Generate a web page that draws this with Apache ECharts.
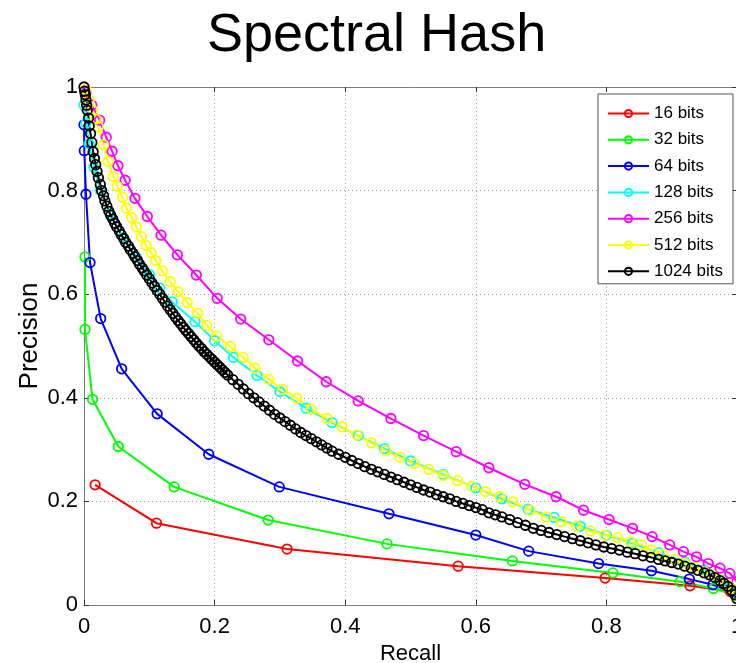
<!DOCTYPE html>
<html>
<head>
<meta charset="utf-8">
<script src="https://cdn.jsdelivr.net/npm/echarts@6/dist/echarts.min.js"></script>
<style>
html,body{margin:0;padding:0;background:#fff;}
#chart{width:736px;height:663px;}
</style>
</head>
<body>
<div id="chart"></div>
<script>
// ---- data (recall, precision) ----
const xTicks = [0, 0.2, 0.4, 0.6, 0.8, 1];
const yTicks = [0, 0.2, 0.4, 0.6, 0.8, 1];
const seriesNames = ['16 bits', '32 bits', '64 bits', '128 bits', '256 bits', '512 bits', '1024 bits'];
const seriesColors = ['#ff0000', '#00ff00', '#0000ff', '#00ffff', '#ff00ff', '#ffff00', '#000000'];

const bits16 = [[0.017,0.232],[0.111,0.158],[0.311,0.108],[0.573,0.075],[0.798,0.052],[0.928,0.037],[0.99,0.026],[1.0,0.02]];
const bits32 = [[0.0015,0.672],[0.0015,0.532],[0.013,0.397],[0.0525,0.306],[0.138,0.228],[0.282,0.164],[0.464,0.118],[0.656,0.085],[0.81,0.062],[0.913,0.045],[0.964,0.032],[1.0,0.018]];
const bits64 = [[0.0,0.927],[0.0005,0.877],[0.003,0.793],[0.0092,0.661],[0.0255,0.553],[0.0577,0.456],[0.112,0.369],[0.191,0.291],[0.299,0.228],[0.467,0.176],[0.6,0.135],[0.681,0.104],[0.788,0.080],[0.869,0.066],[0.927,0.050],[0.963,0.039],[1.0,0.022]];
const bits128 = [[0,0.965],[0.003,0.93],[0.008,0.89],[0.015,0.845],[0.025,0.8],[0.04,0.755],[0.06,0.71],[0.08,0.672],[0.1,0.638],[0.116,0.612],[0.135,0.585],[0.17,0.547],[0.2,0.51],[0.229,0.478],[0.265,0.443],[0.3,0.412],[0.34,0.38],[0.38,0.352],[0.42,0.327],[0.46,0.302],[0.5,0.278],[0.55,0.252],[0.6,0.226],[0.64,0.205],[0.68,0.185],[0.72,0.169],[0.76,0.152],[0.8,0.135],[0.84,0.119],[0.88,0.101],[0.92,0.083],[0.95,0.068],[0.98,0.048],[1.0,0.028]];
const bits256 = [[0.003,0.99],[0.012,0.965],[0.024,0.936],[0.034,0.903],[0.043,0.876],[0.052,0.848],[0.063,0.82],[0.078,0.785],[0.097,0.75],[0.118,0.714],[0.143,0.676],[0.172,0.637],[0.204,0.592],[0.24,0.552],[0.283,0.512],[0.327,0.471],[0.371,0.431],[0.42,0.394],[0.47,0.36],[0.52,0.327],[0.57,0.296],[0.62,0.265],[0.675,0.233],[0.723,0.209],[0.765,0.183],[0.804,0.165],[0.84,0.148],[0.87,0.132],[0.897,0.116],[0.918,0.103],[0.938,0.093],[0.956,0.08],[0.974,0.071],[0.989,0.061],[1.0,0.045]];
const bits512 = [[0.003,0.995],[0.008,0.975],[0.013,0.955],[0.018,0.938],[0.022,0.923],[0.03,0.888],[0.037,0.856],[0.045,0.827],[0.051,0.808],[0.059,0.787],[0.065,0.766],[0.073,0.748],[0.08,0.73],[0.088,0.711],[0.095,0.694],[0.103,0.68],[0.11,0.665],[0.12,0.645],[0.132,0.624],[0.144,0.605],[0.158,0.584],[0.174,0.563],[0.188,0.54],[0.203,0.519],[0.224,0.499],[0.244,0.478],[0.262,0.457],[0.283,0.436],[0.304,0.416],[0.326,0.399],[0.348,0.378],[0.372,0.36],[0.395,0.344],[0.418,0.328],[0.44,0.313],[0.462,0.298],[0.484,0.285],[0.506,0.273],[0.528,0.262],[0.55,0.25],[0.572,0.24],[0.594,0.229],[0.615,0.219],[0.637,0.209],[0.657,0.199],[0.683,0.183],[0.708,0.17],[0.731,0.161],[0.754,0.152],[0.776,0.143],[0.798,0.135],[0.817,0.13],[0.837,0.122],[0.854,0.116],[0.869,0.106],[0.887,0.097],[0.905,0.088],[0.92,0.08],[0.935,0.072],[0.95,0.064],[0.962,0.057],[0.974,0.049],[0.985,0.04],[0.994,0.03],[1.0,0.02]];
const bits1024 = [[0,1],[0.001,0.992],[0.002,0.985],[0.003,0.975],[0.004,0.965],[0.005,0.955],[0.007,0.94],[0.008,0.925],[0.01,0.91],[0.012,0.893],[0.014,0.875],[0.016,0.862],[0.018,0.85],[0.02,0.837],[0.022,0.825],[0.025,0.812],[0.027,0.8],[0.03,0.79],[0.032,0.78],[0.035,0.77],[0.038,0.76],[0.041,0.752],[0.044,0.745],[0.047,0.737],[0.05,0.73],[0.054,0.722],[0.057,0.715],[0.061,0.707],[0.064,0.7],[0.068,0.693],[0.071,0.686],[0.075,0.679],[0.078,0.672],[0.082,0.665],[0.085,0.658],[0.089,0.651],[0.092,0.645],[0.096,0.637],[0.1,0.63],[0.104,0.622],[0.108,0.615],[0.112,0.607],[0.116,0.6],[0.12,0.592],[0.124,0.585],[0.128,0.577],[0.132,0.57],[0.136,0.563],[0.14,0.556],[0.144,0.549],[0.148,0.543],[0.152,0.536],[0.156,0.53],[0.16,0.524],[0.164,0.518],[0.168,0.512],[0.172,0.506],[0.176,0.5],[0.18,0.495],[0.184,0.489],[0.188,0.484],[0.192,0.479],[0.196,0.474],[0.2,0.469],[0.204,0.464],[0.208,0.459],[0.212,0.454],[0.216,0.449],[0.22,0.444],[0.228,0.435],[0.236,0.426],[0.244,0.417],[0.252,0.408],[0.26,0.4],[0.268,0.392],[0.276,0.384],[0.284,0.376],[0.292,0.368],[0.3,0.361],[0.308,0.354],[0.316,0.347],[0.324,0.34],[0.332,0.333],[0.34,0.327],[0.348,0.321],[0.356,0.315],[0.364,0.309],[0.372,0.303],[0.38,0.297],[0.39,0.291],[0.4,0.285],[0.41,0.279],[0.42,0.273],[0.43,0.267],[0.44,0.262],[0.45,0.257],[0.46,0.252],[0.47,0.247],[0.48,0.242],[0.49,0.237],[0.5,0.232],[0.51,0.227],[0.52,0.222],[0.53,0.218],[0.54,0.213],[0.55,0.209],[0.56,0.205],[0.57,0.2],[0.58,0.196],[0.59,0.192],[0.6,0.188],[0.61,0.184],[0.62,0.178],[0.63,0.174],[0.64,0.17],[0.652,0.165],[0.664,0.159],[0.676,0.154],[0.688,0.148],[0.7,0.144],[0.712,0.14],[0.724,0.136],[0.736,0.132],[0.748,0.128],[0.76,0.124],[0.772,0.12],[0.784,0.116],[0.796,0.112],[0.808,0.109],[0.82,0.106],[0.832,0.102],[0.844,0.099],[0.856,0.095],[0.868,0.092],[0.88,0.088],[0.89,0.085],[0.9,0.082],[0.91,0.079],[0.92,0.075],[0.93,0.071],[0.94,0.067],[0.95,0.062],[0.958,0.058],[0.966,0.053],[0.974,0.047],[0.98,0.042],[0.986,0.036],[0.992,0.028],[0.997,0.02],[1.0,0.012]];

const allData = [bits16, bits32, bits64, bits128, bits256, bits512, bits1024];

const FONT = 'Liberation Sans, Arial, Helvetica, sans-serif';
const chart = echarts.init(document.getElementById('chart'), null, {renderer: 'canvas'});

const series = seriesNames.map((name, i) => ({
  name: name,
  type: 'line',
  data: allData[i],
  symbol: 'circle',
  symbolSize: 9.5,
  showSymbol: true,
  showAllSymbol: true,
  clip: false,
  animation: false,
  lineStyle: {color: seriesColors[i], width: 2},
  itemStyle: {color: 'rgba(255,255,255,0)', borderColor: seriesColors[i], borderWidth: 1.8},
  emphasis: {disabled: true}
}));

const axisCommon = {
  type: 'value', min: 0, max: 1, interval: 0.2,
  axisLine: {show: true, onZero: false, lineStyle: {color: '#808080', width: 1}},
  axisTick: {show: true, inside: true, length: 5, lineStyle: {color: '#333', width: 1}},
};

chart.setOption({
  animation: false,
  backgroundColor: '#ffffff',
  title: {
    text: 'Spectral Hash', left: 207, top: 9, padding: 0,
    textStyle: {fontFamily: FONT, fontSize: 54, fontWeight: 'normal', color: '#000'}
  },
  grid: {left: 84, top: 87, width: 653, height: 518, containLabel: false, outerBoundsMode: 'none'},
  xAxis: [
    Object.assign({}, axisCommon, {
      position: 'bottom',
      name: 'Recall', nameLocation: 'middle', nameGap: 34,
      nameTextStyle: {fontFamily: FONT, fontSize: 22, color: '#000'},
      axisLabel: {fontFamily: FONT, fontSize: 22, color: '#000', margin: 11,
        formatter: v => xTicks.indexOf(v) >= 0 ? String(v) : ''},
      splitLine: {show: true, lineStyle: {color: '#9a9a9a', type: [1, 3], width: 1}}
    }),
    Object.assign({}, axisCommon, {
      position: 'top', axisLabel: {show: false}, splitLine: {show: false}
    })
  ],
  yAxis: [
    Object.assign({}, axisCommon, {
      position: 'left',
      name: 'Precision', nameLocation: 'middle', nameGap: 41, nameRotate: 90,
      nameMoveOverlap: false,
      nameTextStyle: {fontFamily: FONT, fontSize: 26, color: '#000', padding: [0, 0, 0, 20]},
      axisLabel: {fontFamily: FONT, fontSize: 22, color: '#000', margin: 6,
        formatter: v => yTicks.indexOf(v) >= 0 ? String(v) : ''},
      splitLine: {show: true, lineStyle: {color: '#9a9a9a', type: [1, 3], width: 1}}
    }),
    Object.assign({}, axisCommon, {
      position: 'right', axisLabel: {show: false}, splitLine: {show: false}
    })
  ],
  legend: {
    orient: 'vertical', left: 598, top: 94,
    data: seriesNames,
    itemWidth: 41, itemHeight: 9, itemGap: 9.3,
    padding: [11, 10, 4, 9],
    backgroundColor: '#fff', borderColor: '#555', borderWidth: 1,
    textStyle: {fontFamily: FONT, fontSize: 17, color: '#000', lineHeight: 17},
    selectedMode: false
  },
  series: series
});
</script>
</body>
</html>
